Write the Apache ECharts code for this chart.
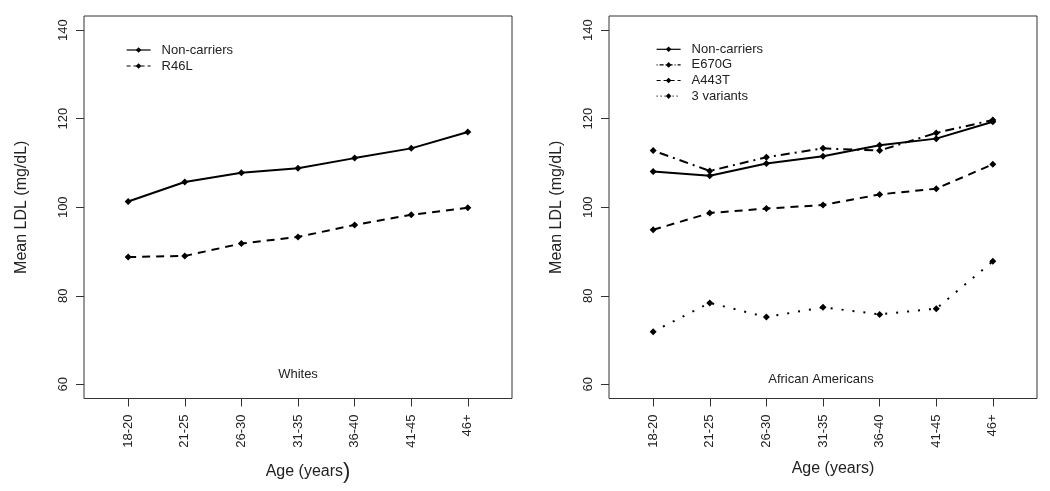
<!DOCTYPE html>
<html>
<head>
<meta charset="utf-8">
<script src="https://cdn.jsdelivr.net/npm/echarts@6/dist/echarts.min.js"></script>
<style>
html,body{margin:0;padding:0;background:#fff;}
#chart{width:1050px;height:491px;}
</style>
</head>
<body>
<div id="chart"></div>
<script>
var categories = ['18-20','21-25','26-30','31-35','36-40','41-45','46+'];
var yTicks = [60, 80, 100, 120, 140];

// Whites
var whitesNonCarriers = [101.3, 105.7, 107.8, 108.8, 111.1, 113.3, 117.0];
var whitesR46L        = [88.75, 89.0, 91.8, 93.3, 96.0, 98.3, 99.9];

// African Americans
var aaNonCarriers = [108.1, 107.1, 109.9, 111.5, 114.0, 115.5, 119.3];
var aaE670G       = [112.8, 108.2, 111.3, 113.3, 112.8, 116.8, 119.7];
var aaA443T       = [94.9, 98.7, 99.7, 100.5, 102.9, 104.2, 109.7];
var aa3Variants   = [71.9, 78.4, 75.2, 77.4, 75.8, 77.1, 87.8];

var FONT = '"Liberation Sans", Arial, sans-serif';
var TXT = '#222';
var idx = categories.map(function(_, i){ return i; });
function pairs(arr){ return arr.map(function(v, i){ return [i, v]; }); }

function xAxisDef(gi, nameObj){
  return {
    type: 'value', gridIndex: gi, min: -0.78, max: 6.78,
    splitLine: {show: false},
    axisLine: {show: false, onZero: false},
    axisTick: {show: true, length: 8, customValues: idx, lineStyle: {color: '#333', width: 1}},
    axisLabel: {show: true, rotate: 90, margin: 16, customValues: idx,
      formatter: function(v){ return categories[Math.round(v)]; },
      fontFamily: FONT, fontSize: 13, color: TXT},
    name: nameObj.text, nameLocation: 'middle', nameGap: nameObj.gap,
    nameTextStyle: nameObj.style
  };
}
function yAxisDef(gi, gap){
  return {
    type: 'value', gridIndex: gi, min: 56.8, max: 143.2,
    splitLine: {show: false},
    axisLine: {show: false, onZero: false},
    axisTick: {show: true, length: 8, customValues: yTicks, lineStyle: {color: '#333', width: 1}},
    axisLabel: {show: true, rotate: 90, margin: 14, customValues: yTicks,
      fontFamily: FONT, fontSize: 13, color: TXT},
    name: 'Mean LDL (mg/dL)', nameLocation: 'middle', nameGap: gap,
    nameTextStyle: {fontFamily: FONT, fontSize: 16, color: TXT}
  };
}
function lineSeries(name, gi, arr, dash){
  return {
    type: 'line', name: name, xAxisIndex: gi, yAxisIndex: gi,
    data: pairs(arr), symbol: 'diamond', symbolSize: 7, showSymbol: true,
    lineStyle: {color: '#000', width: 2, type: dash},
    itemStyle: {color: '#000'},
    animation: false
  };
}
function legItem(name, dash){
  return {name: name, lineStyle: {width: 1.2, type: dash, color: '#000'}};
}

var chart = echarts.init(document.getElementById('chart'));
chart.setOption({
  backgroundColor: '#fff',
  animation: false,
  grid: [
    {left: 84, right: 538, top: 16, bottom: 92.5, show: true, borderColor: '#333', borderWidth: 1, backgroundColor: 'transparent'},
    {left: 609, right: 13, top: 16, bottom: 92.5, show: true, borderColor: '#333', borderWidth: 1, backgroundColor: 'transparent'}
  ],
  xAxis: [
    xAxisDef(0, {text: '{a|Age (years}{b|)}', gap: 62, style: {padding: [0,0,0,20], rich: {a: {fontFamily: FONT, fontSize: 16, color: TXT}, b: {fontFamily: FONT, fontSize: 22, color: TXT}}}}),
    xAxisDef(1, {text: 'Age (years)', gap: 62, style: {fontFamily: FONT, fontSize: 16, color: TXT, padding: [0,0,0,20]}})
  ],
  yAxis: [yAxisDef(0, 54), yAxisDef(1, 44)],
  legend: [
    {orient: 'vertical', left: 126, top: 42, padding: 0, itemWidth: 24, itemHeight: 7, itemGap: 0,
      data: [legItem('Non-carriers', 'solid'), legItem('R46L', [4, 3])],
      textStyle: {fontFamily: FONT, fontSize: 13, color: TXT, lineHeight: 16, padding: [0,0,0,6]},
      selectedMode: false},
    {orient: 'vertical', left: 656, top: 41.5, padding: 0, itemWidth: 24, itemHeight: 7, itemGap: 0,
      data: [legItem('Non-carriers ', 'solid'), legItem('E670G', [1, 2, 4, 2]), legItem('A443T', [4, 3]), legItem('3 variants', [1, 3])],
      textStyle: {fontFamily: FONT, fontSize: 13, color: TXT, lineHeight: 15.6, padding: [0,0,0,6]},
      selectedMode: false}
  ],
  graphic: [
    {type: 'text', x: 298, y: 368, style: {text: 'Whites', font: '13px ' + FONT, fill: TXT, align: 'center'}},
    {type: 'text', x: 821, y: 373, style: {text: 'African Americans', font: '13px ' + FONT, fill: TXT, align: 'center'}}
  ],
  series: [
    lineSeries('Non-carriers', 0, whitesNonCarriers, 'solid'),
    lineSeries('R46L', 0, whitesR46L, [8, 6]),
    lineSeries('Non-carriers ', 1, aaNonCarriers, 'solid'),
    lineSeries('E670G', 1, aaE670G, [2, 5, 9, 5]),
    lineSeries('A443T', 1, aaA443T, [8, 6]),
    lineSeries('3 variants', 1, aa3Variants, [2, 9])
  ]
});
</script>
</body>
</html>
